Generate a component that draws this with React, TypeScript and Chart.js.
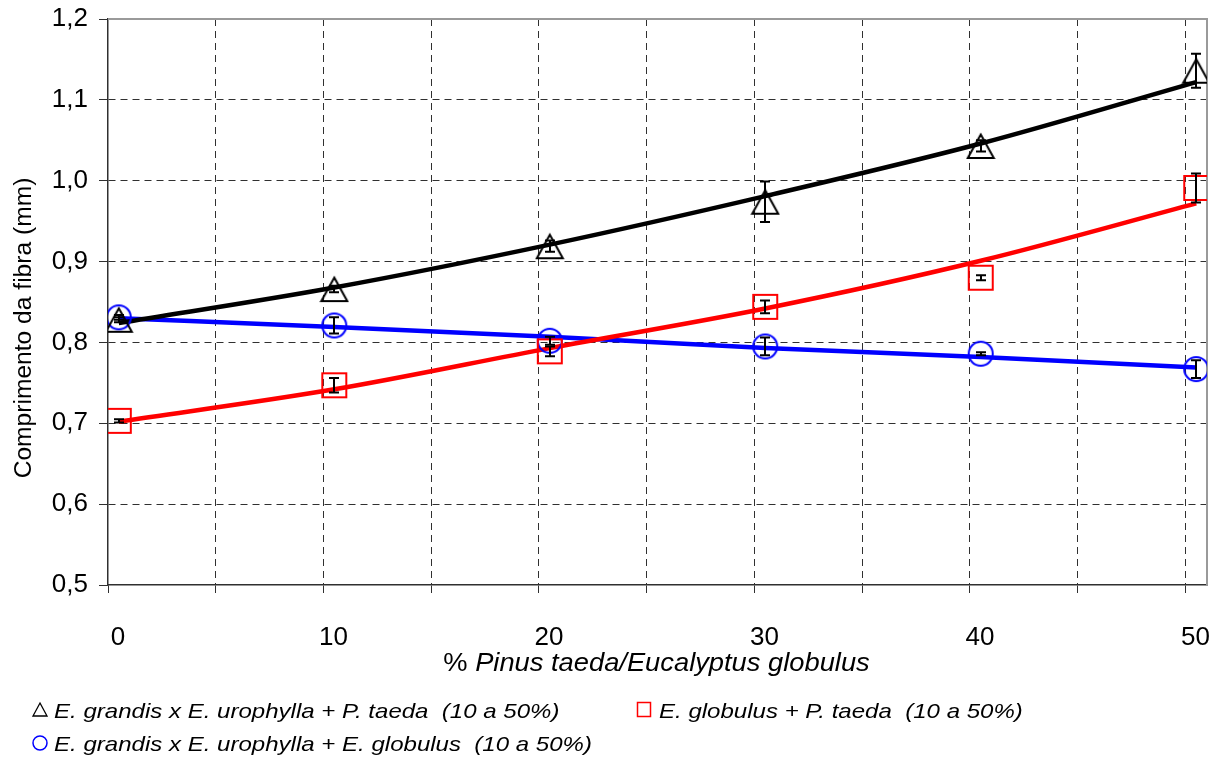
import React, { useEffect, useRef } from 'react';
import { Chart, registerables } from 'chart.js';

Chart.register(...registerables);

const FONT = '"Liberation Sans", Arial, Helvetica, sans-serif';

// x positions of the measured points (% Pinus taeda / Eucalyptus globulus)
const xPositions = [0.5, 10.5, 20.5, 30.5, 40.5, 50.5];

// E. grandis x E. urophylla + P. taeda
const gradPtaeda = [0.828, 0.866, 0.919, 0.974, 1.043, 1.136];
const gradPtaedaErr = [0.003, 0.004, 0.007, 0.025, 0.007, 0.021];
const gradPtaedaTrend = [0.824, 0.868, 0.921, 0.981, 1.046, 1.122];

// E. globulus + P. taeda
const globPtaeda = [0.703, 0.747, 0.789, 0.844, 0.880, 0.991];
const globPtaedaErr = [0.002, 0.009, 0.006, 0.008, 0.003, 0.018];
const globPtaedaTrend = [0.702, 0.742, 0.793, 0.842, 0.901, 0.972];

// E. grandis x E. urophylla + E. globulus
const gradGlob = [0.831, 0.821, 0.802, 0.795, 0.786, 0.767];
const gradGlobErr = [0.003, 0.010, 0.005, 0.011, 0.002, 0.011];
const gradGlobTrend = [0.830, 0.819, 0.807, 0.793, 0.782, 0.769];

const xTicks = [0, 5, 10, 15, 20, 25, 30, 35, 40, 45, 50];
const xLabelTicks = [0, 10, 20, 30, 40, 50];
const yTicks = [0.5, 0.6, 0.7, 0.8, 0.9, 1.0, 1.1, 1.2];

const yTitle = 'Comprimento da fibra (mm)';
const xTitlePrefix = '% ';
const xTitleItalic = 'Pinus taeda/Eucalyptus globulus';
const legendLabels = [
  'E. grandis x E. urophylla + P. taeda  (10 a 50%)',
  'E. globulus + P. taeda  (10 a 50%)',
  'E. grandis x E. urophylla + E. globulus  (10 a 50%)',
];

const pts = (ys: number[]) => ys.map((y, i) => ({ x: xPositions[i], y }));

function makeTriangle() {
  const c = document.createElement('canvas');
  c.width = 30; c.height = 28;
  const g = c.getContext('2d')!;
  g.strokeStyle = '#000'; g.lineWidth = 2; g.lineJoin = 'miter';
  g.beginPath(); g.moveTo(15, 2.5); g.lineTo(28, 26); g.lineTo(2, 26); g.closePath(); g.stroke();
  return c;
}
function makeSquare() {
  const c = document.createElement('canvas');
  c.width = 28; c.height = 28;
  const g = c.getContext('2d')!;
  g.strokeStyle = '#FF0000'; g.lineWidth = 2;
  g.strokeRect(2, 2, 24, 24);
  return c;
}
function makeCircle() {
  const c = document.createElement('canvas');
  c.width = 28; c.height = 28;
  const g = c.getContext('2d')!;
  g.strokeStyle = '#0000FF'; g.lineWidth = 2;
  g.beginPath(); g.arc(14, 14, 12, 0, Math.PI * 2); g.stroke();
  return c;
}

const errorSeries = [
  { values: gradPtaeda, errors: gradPtaedaErr },
  { values: globPtaeda, errors: globPtaedaErr },
  { values: gradGlob, errors: gradGlobErr },
];

const errorBarPlugin = {
  id: 'errorBars',
  afterDatasetsDraw(chart: any) {
    const { ctx, scales } = chart;
    const x = scales.x, y = scales.y;
    ctx.save();
    ctx.strokeStyle = '#000';
    ctx.lineWidth = 2;
    errorSeries.forEach((s) => {
      s.values.forEach((v, i) => {
        const e = s.errors[i];
        const px = Math.round(x.getPixelForValue(xPositions[i]));
        const y1 = y.getPixelForValue(v + e);
        const y2 = y.getPixelForValue(v - e);
        ctx.beginPath();
        ctx.moveTo(px, y1); ctx.lineTo(px, y2);
        ctx.moveTo(px - 5, y1); ctx.lineTo(px + 5, y1);
        ctx.moveTo(px - 5, y2); ctx.lineTo(px + 5, y2);
        ctx.stroke();
      });
    });
    ctx.restore();
  },
};

const framePlugin = {
  id: 'frame',
  beforeDatasetsDraw(chart: any) {
    const { ctx, chartArea: a } = chart;
    ctx.save();
    ctx.strokeStyle = '#9a9a9a';
    ctx.lineWidth = 2;
    ctx.beginPath();
    ctx.moveTo(a.left, a.top);
    ctx.lineTo(a.right, a.top);
    ctx.lineTo(a.right, a.bottom);
    ctx.stroke();
    ctx.restore();
  },
};

const textPlugin = {
  id: 'texts',
  afterDraw(chart: any) {
    const { ctx, chartArea: a } = chart;
    ctx.save();
    ctx.fillStyle = '#000';
    ctx.textBaseline = 'alphabetic';
    ctx.textAlign = 'left';

    // y axis title
    ctx.save();
    ctx.translate(31, 328);
    ctx.rotate(-Math.PI / 2);
    ctx.textAlign = 'center';
    ctx.font = `normal 24.6px ${FONT}`;
    ctx.fillText(yTitle, 0, 0);
    ctx.restore();

    // x axis title (mixed roman / italic)
    const tSize = 26;
    const tScale = 1.05;
    ctx.font = `normal ${tSize}px ${FONT}`;
    const w1 = ctx.measureText(xTitlePrefix).width;
    ctx.font = `italic ${tSize}px ${FONT}`;
    const w2 = ctx.measureText(xTitleItalic).width;
    const total = (w1 + w2) * tScale;
    const cx = (a.left + a.right) / 2 - 1;
    const startX = cx - total / 2;
    ctx.save();
    ctx.translate(startX, 671);
    ctx.scale(tScale, 1);
    ctx.font = `normal ${tSize}px ${FONT}`;
    ctx.fillText(xTitlePrefix, 0, 0);
    ctx.font = `italic ${tSize}px ${FONT}`;
    ctx.fillText(xTitleItalic, w1, 0);
    ctx.restore();

    // legend
    const lSize = 21;
    const lScale = 1.145;
    const drawText = (t: string, x: number, y: number) => {
      ctx.save();
      ctx.translate(x, y);
      ctx.scale(lScale, 1);
      ctx.font = `italic ${lSize}px ${FONT}`;
      ctx.fillText(t, 0, 0);
      ctx.restore();
    };
    const row1 = 718, row2 = 751;
    // triangle
    ctx.strokeStyle = '#000';
    ctx.lineWidth = 1.3;
    ctx.beginPath();
    ctx.moveTo(40, row1 - 15); ctx.lineTo(47, row1 - 2); ctx.lineTo(33, row1 - 2); ctx.closePath();
    ctx.stroke();
    drawText(legendLabels[0], 54, row1);
    // square
    ctx.strokeStyle = '#FF0000';
    ctx.lineWidth = 1.5;
    ctx.strokeRect(637.5, row1 - 15.5, 13, 14);
    drawText(legendLabels[1], 659, row1);
    // circle
    ctx.strokeStyle = '#0000FF';
    ctx.lineWidth = 1.5;
    ctx.beginPath();
    ctx.arc(40, row2 - 8, 7, 0, Math.PI * 2);
    ctx.stroke();
    drawText(legendLabels[2], 54, row2);

    ctx.restore();
  },
};

export default function App() {
  const ref = useRef<HTMLCanvasElement | null>(null);

  useEffect(() => {
    if (!ref.current) return;
    const tri = makeTriangle();
    const sq = makeSquare();
    const circ = makeCircle();

    const chart = new Chart(ref.current, {
      type: 'scatter',
      data: {
        datasets: [
          {
            label: legendLabels[0],
            data: pts(gradPtaeda),
            pointStyle: tri as any,
            pointRadius: 12,
            showLine: false,
            order: 0,
          },
          {
            label: legendLabels[1],
            data: pts(globPtaeda),
            pointStyle: sq as any,
            pointRadius: 12,
            showLine: false,
            order: 0,
          },
          {
            label: legendLabels[2],
            data: pts(gradGlob),
            pointStyle: circ as any,
            pointRadius: 12,
            showLine: false,
            order: 0,
          },
          {
            label: 'trend1',
            data: pts(gradPtaedaTrend),
            showLine: true,
            borderColor: '#000000',
            borderWidth: 4.5,
            pointRadius: 0,
            cubicInterpolationMode: 'monotone',
            order: 1,
          },
          {
            label: 'trend2',
            data: pts(globPtaedaTrend),
            showLine: true,
            borderColor: '#FF0000',
            borderWidth: 4.5,
            pointRadius: 0,
            cubicInterpolationMode: 'monotone',
            order: 1,
          },
          {
            label: 'trend3',
            data: pts(gradGlobTrend),
            showLine: true,
            borderColor: '#0000FF',
            borderWidth: 4.5,
            pointRadius: 0,
            cubicInterpolationMode: 'monotone',
            order: 1,
          },
        ],
      },
      options: {
        animation: false,
        responsive: false,
        events: [],
        layout: { padding: { top: 19, right: 15, left: 0, bottom: 0 } },
        plugins: {
          legend: { display: false },
          tooltip: { enabled: false },
          title: { display: false },
        },
        scales: {
          x: {
            type: 'linear',
            min: 0,
            max: 51,
            afterBuildTicks: (s: any) => {
              s.ticks = xTicks.map((v) => ({ value: v }));
            },
            afterFit: (s: any) => {
              s.height = 172;
              s.paddingLeft = 0;
              s.paddingRight = 0;
            },
            ticks: {
              autoSkip: false,
              maxRotation: 0,
              padding: 29,
              labelOffset: 10,
              color: '#000',
              font: { family: FONT, size: 26 },
              callback: (v: any) => (xLabelTicks.includes(Number(v)) ? String(v) : ''),
            },
            grid: {
              color: (c: any) => (c.tick && c.tick.value === 0 ? 'rgba(0,0,0,0)' : '#303030'),
              lineWidth: 1,
              drawTicks: true,
              tickLength: 8,
              tickColor: '#303030',
              tickWidth: 1,
            },
            border: { display: true, color: '#303030', width: 1.5, dash: [7, 5] },
          },
          y: {
            type: 'linear',
            min: 0.5,
            max: 1.2,
            afterBuildTicks: (s: any) => {
              s.ticks = yTicks.map((v) => ({ value: v }));
            },
            afterFit: (s: any) => {
              s.width = 108;
              s.paddingTop = 0;
              s.paddingBottom = 0;
            },
            ticks: {
              padding: 11,
              color: '#000',
              font: { family: FONT, size: 26 },
              callback: (v: any) => Number(v).toFixed(1).replace('.', ','),
            },
            grid: {
              color: (c: any) =>
                c.tick && (Math.abs(c.tick.value - 0.5) < 1e-6 || Math.abs(c.tick.value - 1.2) < 1e-6)
                  ? 'rgba(0,0,0,0)'
                  : '#303030',
              lineWidth: 1,
              drawTicks: true,
              tickLength: 9,
              tickColor: '#303030',
              tickWidth: 1,
            },
            border: { display: true, color: '#303030', width: 1.5, dash: [7, 5] },
            title: { display: false },
          },
        },
      },
      plugins: [framePlugin, errorBarPlugin, textPlugin],
    });
    return () => chart.destroy();
  }, []);

  return (
    <div style={{ position: 'absolute', left: 0, top: 0, width: 1222, height: 757, background: '#fff' }}>
      <canvas ref={ref} width={1222} height={757} style={{ display: 'block', width: 1222, height: 757 }} />
    </div>
  );
}
